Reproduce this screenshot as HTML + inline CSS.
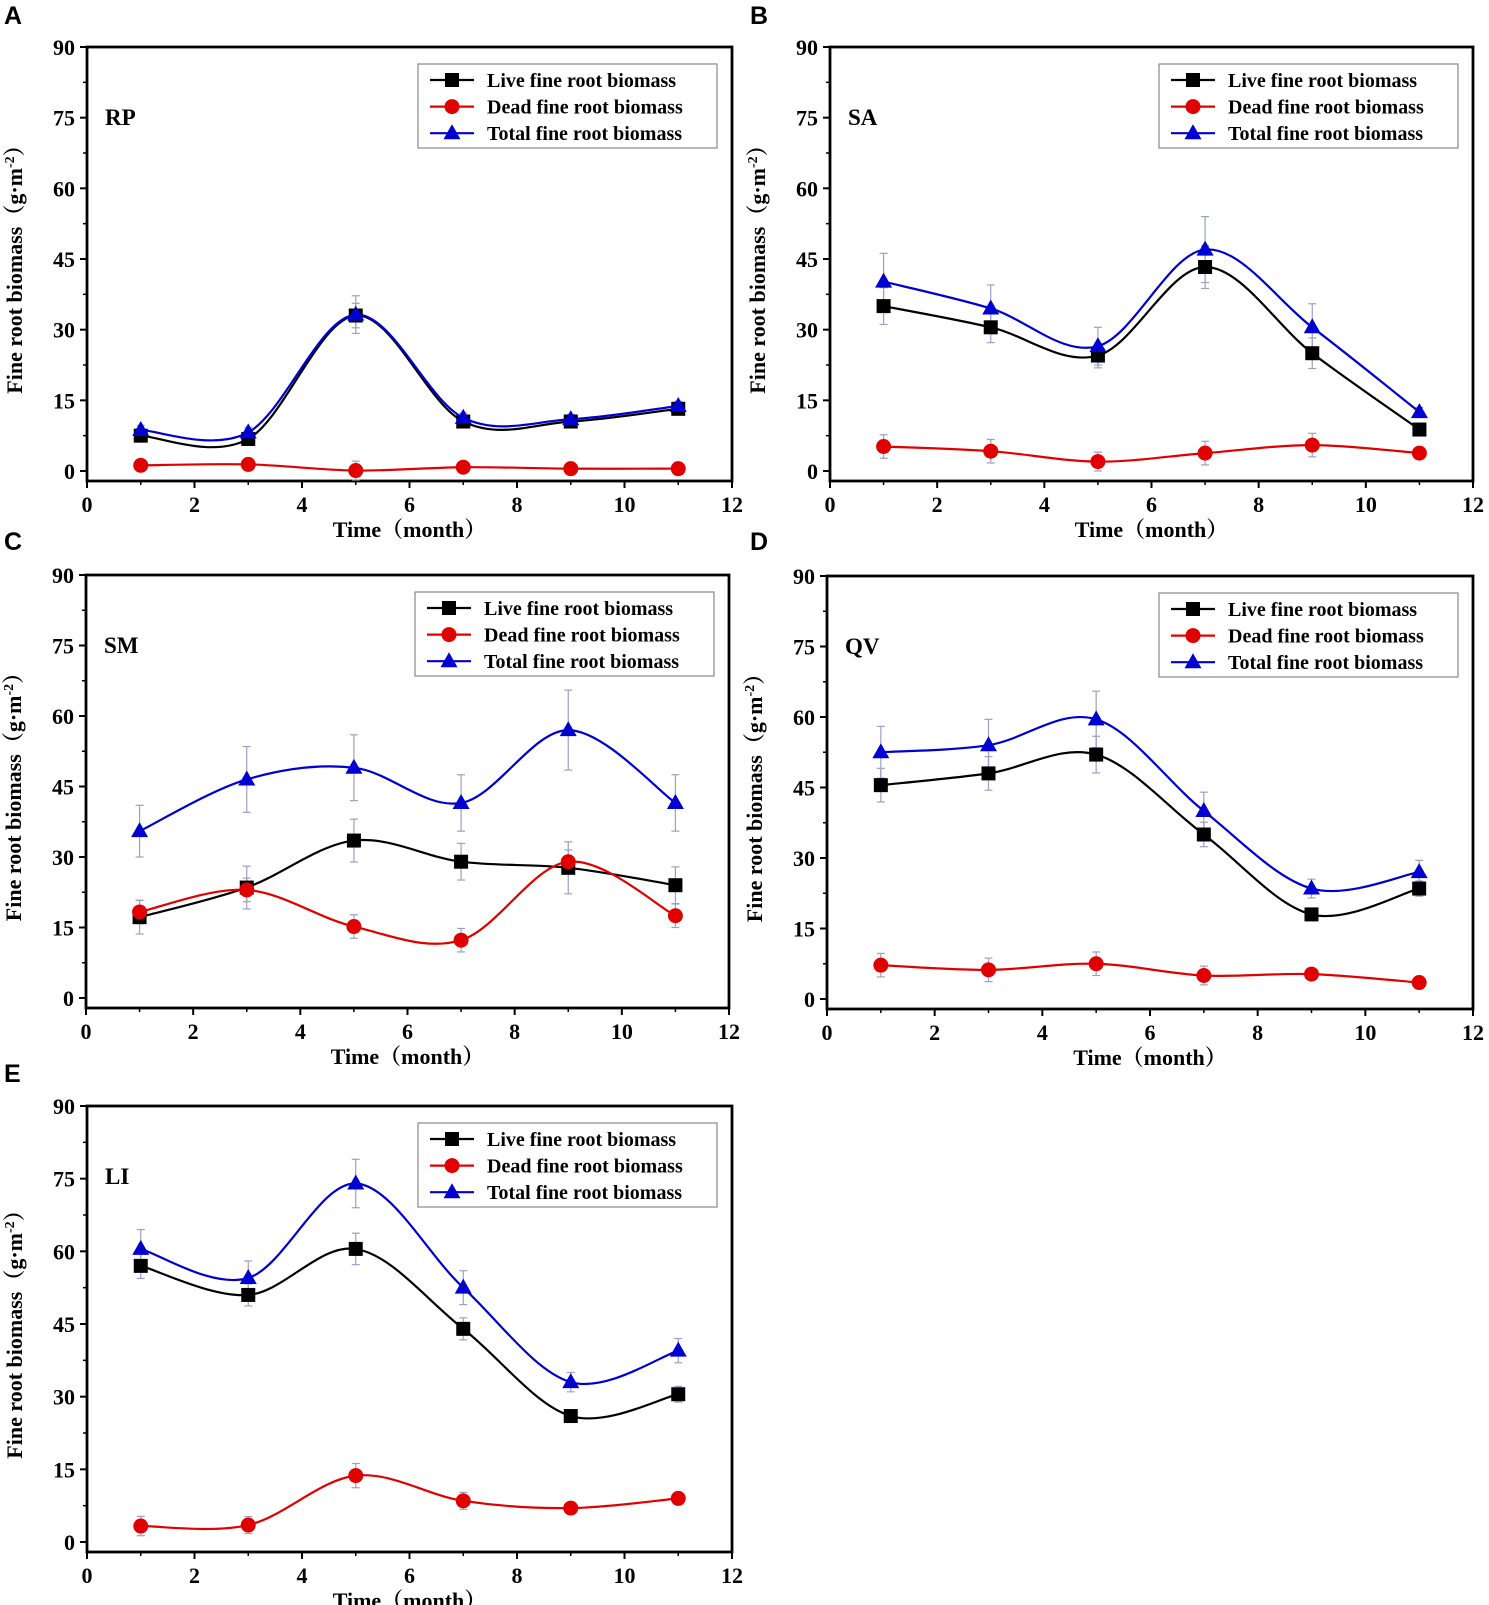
<!DOCTYPE html>
<html><head><meta charset="utf-8"><style>
html,body{margin:0;padding:0;background:#fff}
svg{display:block}
text{font-family:"Liberation Serif",serif;font-weight:bold}
</style></head><body>
<svg id="fig" width="1489" height="1605" viewBox="0 0 1489 1605" xmlns="http://www.w3.org/2000/svg"></svg>
<script>
const months = [1,3,5,7,9,11];
const yTicks = [0,15,30,45,60,75,90];
const xTicks = [0,2,4,6,8,10,12];
const legendLabels = ["Live fine root biomass","Dead fine root biomass","Total fine root biomass"];
// panel A - RP
const rpLive = [7.5,6.8,33,10.5,10.5,13.2];
const rpDead = [1.2,1.4,0.1,0.8,0.5,0.5];
const rpTotal = [8.7,8.2,33.2,11.3,11,13.8];
const rpErr = [1,1,4,1,1,1];
// panel B - SA
const saLive = [35,30.5,24.5,43.3,25,8.8];
const saDead = [5.2,4.2,2,3.8,5.5,3.8];
const saTotal = [40.2,34.5,26.5,47,30.5,12.5];
const saErr = [6,5,4,7,5,1];
// panel C - SM
const smLive = [17.2,23.5,33.5,29,27.7,24];
const smDead = [18.3,23,15.2,12.3,29,17.5];
const smTotal = [35.5,46.5,49,41.5,57,41.5];
const smErr = [5.5,7,7,6,8.5,6];
// panel D - QV
const qvLive = [45.5,48,52,35,18,23.5];
const qvDead = [7.2,6.2,7.5,5,5.3,3.5];
const qvTotal = [52.5,54,59.5,40,23.5,27];
const qvErr = [5.5,5.5,6,4,2,2.5];
// panel E - LI
const liLive = [57,51,60.5,44,26,30.5];
const liDead = [3.3,3.5,13.7,8.5,7,9];
const liTotal = [60.5,54.5,74,52.5,33,39.5];
const liErr = [4,3.5,5,3.5,2,2.5];

const NS="http://www.w3.org/2000/svg";
const svg=document.getElementById('fig');
function mk(tag,attrs,parent){const e=document.createElementNS(NS,tag);for(const k in attrs)e.setAttribute(k,attrs[k]);(parent||svg).appendChild(e);return e;}

function spline(pts){
  let d=`M${pts[0][0]},${pts[0][1]}`;
  for(let i=0;i<pts.length-1;i++){
    const p0=pts[i-1]||pts[i],p1=pts[i],p2=pts[i+1],p3=pts[i+2]||p2;
    const c1=[p1[0]+(p2[0]-p0[0])/6,p1[1]+(p2[1]-p0[1])/6];
    const c2=[p2[0]-(p3[0]-p1[0])/6,p2[1]-(p3[1]-p1[1])/6];
    d+=` C${c1[0]},${c1[1]} ${c2[0]},${c2[1]} ${p2[0]},${p2[1]}`;
  }
  return d;
}

function marker(g,type,x,y,color){
  let m;
  if(type==='sq'){m=mk('rect',{x:x-7,y:y-7,width:14,height:14,fill:color},g);}
  else if(type==='ci'){m=mk('circle',{cx:x,cy:y,r:7.5,fill:color},g);}
  else {m=mk('polygon',{points:`${x},${y-9} ${x+8.5},${y+6} ${x-8.5},${y+6}`,fill:color},g);}
  return m;
}

function panel(p){
  const g=mk('g',{});
  
  
  const sx=v=>p.x0+(p.x1-p.x0)*v/12;
  const sy=v=>p.y0-(p.y0-p.y90)*v/90;
  const bottom=p.y0+10;
  const letter=mk('text',{x:p.lx,y:p.ly,'font-size':25,style:'font-family:"Liberation Sans",sans-serif'},g);
  letter.textContent=p.letter;
  
  
  const frame=mk('rect',{x:p.x0,y:p.y90,width:p.x1-p.x0,height:bottom-p.y90,fill:'none',stroke:'#000','stroke-width':2.8},g);
  
  
  yTicks.forEach(v=>{
    mk('line',{x1:p.x0-7,x2:p.x0,y1:sy(v),y2:sy(v),stroke:'#000','stroke-width':2},g);
    if(v<90) mk('line',{x1:p.x0-4,x2:p.x0,y1:sy(v+7.5),y2:sy(v+7.5),stroke:'#000','stroke-width':1.5},g);
    const t=mk('text',{x:p.x0-12,y:sy(v)+8,'font-size':22,'text-anchor':'end'},g);
    t.textContent=v;
    
    
  });
  xTicks.forEach(v=>{
    mk('line',{x1:sx(v),x2:sx(v),y1:bottom,y2:bottom+7,stroke:'#000','stroke-width':2},g);
    if(v<12) mk('line',{x1:sx(v+1),x2:sx(v+1),y1:bottom,y2:bottom+4,stroke:'#000','stroke-width':1.5},g);
    const t=mk('text',{x:sx(v),y:bottom+31,'font-size':22,'text-anchor':'middle'},g);
    t.textContent=v;
    
    
  });
  const xt=mk('text',{x:(p.x0+p.x1)/2,y:bottom+56,'font-size':22,'text-anchor':'middle',style:'font-family:"Liberation Serif","Noto Serif CJK SC",serif'},g);
  xt.textContent='Time（month）';
  
  
  const cy=(p.y90+bottom)/2, cx=p.x0-65;
  const yt=mk('text',{x:cx,y:cy,'font-size':22,'text-anchor':'middle',transform:`rotate(-90 ${cx} ${cy})`,style:'font-family:"Liberation Serif","Noto Serif CJK SC",serif'},g);
  yt.innerHTML='Fine root biomass（g·m<tspan dy="-8" font-size="14">-2</tspan><tspan dy="8">）</tspan>';
  
  
  const st=mk('text',{x:p.x0+18,y:p.y90+78,'font-size':23},g);
  st.textContent=p.code;
  
  
  const series=[[p.live,'#000','sq','live'],[p.dead,'#e00000','ci','dead'],[p.total,'#0000d0','tr','total']];
  series.forEach((s,si)=>{
    const err=si===1?p.err.map(e=>Math.min(e*0.5,2.5)):(si===0?p.err.map(e=>e*0.65):p.err);
    s[0].forEach((v,i)=>{
      const x=sx(months[i]);
      const eb=mk('g',{stroke:'#9aa0c8','stroke-width':1.2},g);
      
      
      mk('line',{x1:x,x2:x,y1:sy(v+err[i]),y2:sy(v-err[i])},eb);
      mk('line',{x1:x-4,x2:x+4,y1:sy(v+err[i]),y2:sy(v+err[i])},eb);
      mk('line',{x1:x-4,x2:x+4,y1:sy(v-err[i]),y2:sy(v-err[i])},eb);
    });
  });
  series.forEach(s=>{
    const pts=s[0].map((v,i)=>[sx(months[i]),sy(v)]);
    const path=mk('path',{d:spline(pts),fill:'none',stroke:s[1],'stroke-width':2.2},g);
    
    
    pts.forEach(pt=>{
      const m=marker(g,s[2],pt[0],pt[1],s[1]);
      
      
    });
  });
  const lg=mk('g',{},g);
  
  
  const lx=p.x1-314, ly=p.y90+17;
  mk('rect',{x:lx,y:ly,width:299,height:84,fill:'#fff',stroke:'#888','stroke-width':1.2},lg);
  series.forEach((s,i)=>{
    const y=ly+16+i*26.6;
    mk('line',{x1:lx+12,x2:lx+56,y1:y,y2:y,stroke:s[1],'stroke-width':2.2},lg);
    marker(lg,s[2],lx+34,y,s[1]);
    const t=mk('text',{x:lx+69,y:y+7,'font-size':20},lg);
    t.textContent=legendLabels[i];
    
    
  });
}

panel({letter:'A',code:'RP',lx:4,ly:24,x0:87,x1:732,y90:47,y0:471,live:rpLive,dead:rpDead,total:rpTotal,err:rpErr});
panel({letter:'B',code:'SA',lx:750,ly:24,x0:830,x1:1473,y90:47,y0:471,live:saLive,dead:saDead,total:saTotal,err:saErr});
panel({letter:'C',code:'SM',lx:4,ly:550,x0:86,x1:729,y90:575,y0:998,live:smLive,dead:smDead,total:smTotal,err:smErr});
panel({letter:'D',code:'QV',lx:750,ly:550,x0:827,x1:1473,y90:576,y0:999,live:qvLive,dead:qvDead,total:qvTotal,err:qvErr});
panel({letter:'E',code:'LI',lx:4,ly:1082,x0:87,x1:732,y90:1106,y0:1542,live:liLive,dead:liDead,total:liTotal,err:liErr});
</script>
</body></html>
